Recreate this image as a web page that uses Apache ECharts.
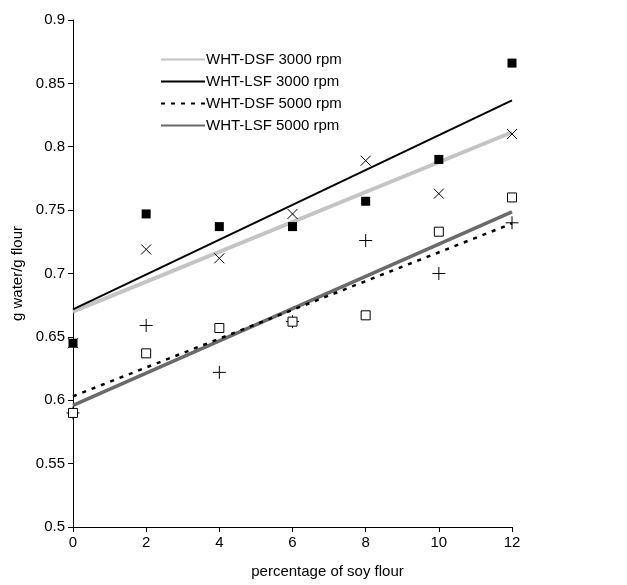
<!DOCTYPE html>
<html>
<head>
<meta charset="utf-8">
<script src="https://cdn.jsdelivr.net/npm/echarts@6/dist/echarts.min.js"></script>
<style>html,body{margin:0;padding:0;background:#fff}#c{width:627px;height:585px}</style>
</head>
<body>
<div id="c"></div>
<script>
// Data
const xVals = [0, 2, 4, 6, 8, 10, 12];
const lsf3000 = [0.645, 0.747, 0.737, 0.737, 0.757, 0.790, 0.866]; // filled squares
const dsf3000 = [0.645, 0.719, 0.712, 0.747, 0.789, 0.763, 0.810]; // crosses
const dsf5000 = [0.590, 0.659, 0.622, 0.662, 0.726, 0.700, 0.740]; // plus
const lsf5000 = [0.590, 0.637, 0.657, 0.662, 0.667, 0.733, 0.760]; // open squares
const seriesNames = ['WHT-DSF 3000 rpm', 'WHT-LSF 3000 rpm', 'WHT-DSF 5000 rpm', 'WHT-LSF 5000 rpm'];
const yTicks = [0.5, 0.55, 0.6, 0.65, 0.7, 0.75, 0.8, 0.85, 0.9];

function pairs(ys) { return xVals.map((x, i) => [x, ys[i]]); }
function trend(ys) {
  const n = xVals.length;
  const mx = xVals.reduce((a, b) => a + b, 0) / n;
  const my = ys.reduce((a, b) => a + b, 0) / n;
  let sxy = 0, sxx = 0;
  xVals.forEach((x, i) => { sxy += (x - mx) * (ys[i] - my); sxx += (x - mx) * (x - mx); });
  const b = sxy / sxx, a = my - b * mx;
  const x0 = xVals[0], x1 = xVals[n - 1];
  return [[x0, a + b * x0], [x1, a + b * x1]];
}

const crossPath = 'path://M0,0L10,10M10,0L0,10';
const plusPath = 'path://M5,0L5,10M0,5L10,5';

const chart = echarts.init(document.getElementById('c'), null, {renderer: 'canvas'});
const font = 'Liberation Sans, Arial, sans-serif';
chart.setOption({
  animation: false,
  backgroundColor: '#fff',
  grid: {left: 73, right: 115, top: 20, bottom: 58, containLabel: false},
  legend: {
    data: seriesNames,
    orient: 'vertical',
    left: 155, top: 47,
    itemWidth: 44, itemHeight: 14, itemGap: 7,
    itemStyle: {opacity: 0},
    textStyle: {fontFamily: font, fontSize: 15, color: '#000', padding: [0, 0, 0, -4]}
  },
  xAxis: {
    type: 'value', min: 0, max: 12, interval: 2,
    name: 'percentage of soy flour', nameLocation: 'middle', nameGap: 37,
    nameTextStyle: {fontFamily: font, fontSize: 15, color: '#000', padding: [0, 0, 0, 70]},
    axisLine: {onZero: false, lineStyle: {color: '#000', width: 1}},
    axisTick: {show: true, length: 5, lineStyle: {color: '#000'}},
    axisLabel: {fontFamily: font, fontSize: 15, color: '#000', margin: 8},
    splitLine: {show: false}
  },
  yAxis: {
    type: 'value', min: 0.5, max: 0.9, interval: 0.05,
    name: 'g water/g flour', nameLocation: 'middle', nameGap: 47,
    nameTextStyle: {fontFamily: font, fontSize: 15, color: '#000'},
    axisLine: {show: true, onZero: false, lineStyle: {color: '#000', width: 1}},
    axisTick: {show: true, length: 5, lineStyle: {color: '#000'}},
    axisLabel: {fontFamily: font, fontSize: 15, color: '#000', margin: 8,
      formatter: v => String(+v.toFixed(2))},
    splitLine: {show: false}
  },
  series: [
    {name: seriesNames[0], type: 'line', data: trend(dsf3000), symbol: 'none', z: 2,
      lineStyle: {color: '#c4c4c4', width: 4}, itemStyle: {color: '#c4c4c4'}},
    {name: seriesNames[1], type: 'line', data: trend(lsf3000), symbol: 'none', z: 3,
      lineStyle: {color: '#000', width: 2}, itemStyle: {color: '#000'}},
    {name: seriesNames[2], type: 'line', data: trend(dsf5000), symbol: 'none', z: 4,
      lineStyle: {color: '#000', width: 2.5, type: [4, 6]}, itemStyle: {color: '#000'}},
    {name: seriesNames[3], type: 'line', data: trend(lsf5000), symbol: 'none', z: 3,
      lineStyle: {color: '#6a6a6a', width: 3.5}, itemStyle: {color: '#6a6a6a'}},
    {name: 'lsf3000 pts', type: 'scatter', data: pairs(lsf3000), symbol: 'rect', symbolSize: 9, z: 5,
      itemStyle: {color: '#000', opacity: 1}},
    {name: 'dsf3000 pts', type: 'scatter', data: pairs(dsf3000), symbol: crossPath, symbolSize: 10, z: 5,
      itemStyle: {color: 'none', borderColor: '#000', borderWidth: 1, opacity: 1}},
    {name: 'dsf5000 pts', type: 'scatter', data: pairs(dsf5000), symbol: plusPath, symbolSize: 13, z: 5,
      itemStyle: {color: 'none', borderColor: '#000', borderWidth: 1, opacity: 1}},
    {name: 'lsf5000 pts', type: 'scatter', data: pairs(lsf5000), symbol: 'rect', symbolSize: 9, z: 5,
      itemStyle: {color: '#fff', borderColor: '#000', borderWidth: 1, opacity: 1}}
  ]
});
</script>
</body>
</html>
